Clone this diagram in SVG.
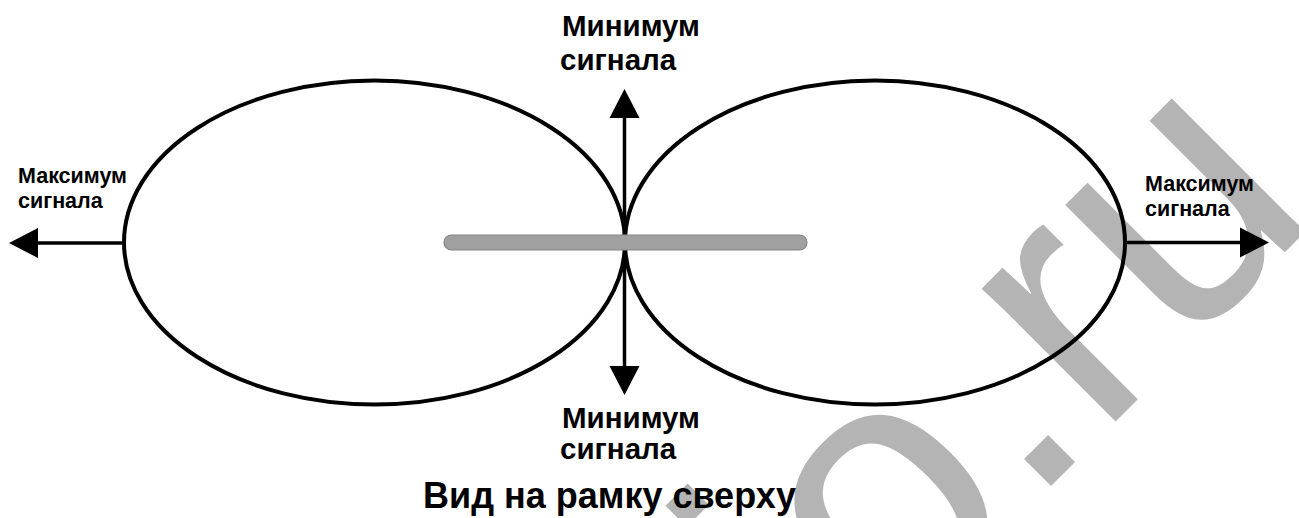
<svg xmlns="http://www.w3.org/2000/svg" width="1299" height="518" viewBox="0 0 1299 518">
  <style>
    .lobe { fill: none; stroke: #000; stroke-width: 4; }
    .conn { stroke: #000; stroke-width: 3.5; fill: none; }
    .lbl { font-family: "Liberation Sans", Arial, sans-serif; font-weight: bold; fill: #000; }
    .big { font-size: 29.5px; }
    .small { font-size: 21.5px; }
    .title { font-size: 36px; }
    .wm { font-family: "Liberation Sans", Arial, sans-serif; font-size: 357px; fill: #b4b4b4; }
  </style>
  <defs>
    <marker id="head" markerUnits="userSpaceOnUse" markerWidth="30" markerHeight="31" refX="0" refY="15" orient="auto" viewBox="0 0 30 30">
      <path d="M0,0 L29,15 L0,30 z" fill="#000"/>
    </marker>
  </defs>
  <rect width="1299" height="518" fill="#fff"/>
  <g id="watermark">
    <text class="wm" x="831.5" y="705.5" transform="rotate(-45 831.5 705.5)">io.ru</text>
  </g>
  <g id="lobe-left">
    <ellipse class="lobe" cx="374.5" cy="242.5" rx="250.5" ry="162"/>
  </g>
  <g id="lobe-right">
    <ellipse class="lobe" cx="875" cy="242.5" rx="250" ry="162"/>
  </g>
  <g id="connectors">
    <line class="conn" x1="124" y1="243" x2="38" y2="243" marker-end="url(#head)"/>
    <line class="conn" x1="1125" y1="242.5" x2="1240" y2="242.5" marker-end="url(#head)"/>
    <line class="conn" x1="624.5" y1="242.5" x2="624.5" y2="118" marker-end="url(#head)"/>
    <line class="conn" x1="624.5" y1="242.5" x2="624.5" y2="366" marker-end="url(#head)"/>
  </g>
  <g id="antenna">
    <rect x="444" y="235" width="363" height="15" rx="7.5" fill="#a0a0a0" stroke="#858585" stroke-width="1.2"/>
  </g>
  <g id="label-top">
    <text class="lbl big" x="562" y="36">Минимум</text>
    <text class="lbl big" x="560" y="70">сигнала</text>
  </g>
  <g id="label-bottom">
    <text class="lbl big" x="562" y="428">Минимум</text>
    <text class="lbl big" x="560" y="459">сигнала</text>
  </g>
  <g id="label-left">
    <text class="lbl small" x="18" y="183">Максимум</text>
    <text class="lbl small" x="18" y="208">сигнала</text>
  </g>
  <g id="label-right">
    <text class="lbl small" x="1145" y="191">Максимум</text>
    <text class="lbl small" x="1145" y="216">сигнала</text>
  </g>
  <g id="caption">
    <text class="lbl title" x="423" y="508">Вид на рамку сверху</text>
  </g>
</svg>
